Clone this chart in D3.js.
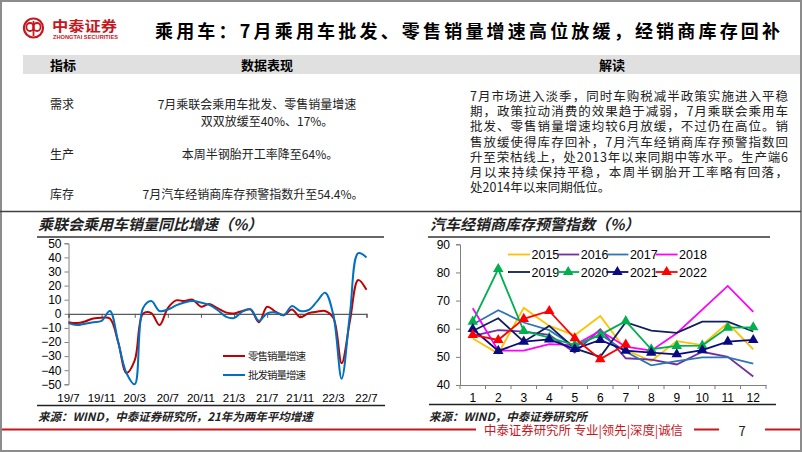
<!DOCTYPE html>
<html>
<head>
<meta charset="utf-8">
<script src="https://cdn.jsdelivr.net/npm/d3@7"></script>
<style>
  html, body { margin: 0; padding: 0; background: #fff; }
  svg text { font-family: "Noto Sans CJK SC", "Liberation Sans", sans-serif; }
  .num { font-family: "Liberation Sans", Arial, sans-serif; }
</style>
</head>
<body>
<svg id="slide" width="802" height="452"></svg>
<script>
// ---- data: left chart (乘联会乘用车销量同比增速, %) ----
const months = ['19/7','19/8','19/9','19/10','19/11','19/12','20/1','20/2','20/3','20/4','20/5','20/6',
  '20/7','20/8','20/9','20/10','20/11','20/12','21/1','21/2','21/3','21/4','21/5','21/6',
  '21/7','21/8','21/9','21/10','21/11','21/12','22/1','22/2','22/3','22/4','22/5','22/6','22/7']
const retail = [-6, -6.6, -5.4, -3.3, -2.8, -3.3, -20, -42, -33, 0, 0.5, -8,
  4, 9.5, 9, 10, 5, 7, 4, 1, 0.3, 2, 3, -6,
  5, 1.5, -1, 3, -2.5, 0.5, 1.5, 2, -3, -35, -5, 24, 17]
const wholesale = [-6.6, -8, -7, -6, -5, 2, -20, -42, -50, 4, 9, 2,
  3, 6, 8, 9, 8, 6.3, 2.7, -2, -3, 1.5, 3.2, -5,
  0.3, 1, -1, 5.5, 2, 2.7, 8.6, 15, -1, -46, 0, 43, 40]
const leftTickLabels = ['19/7','19/11','20/3','20/7','20/11','21/3','21/7','21/11','22/3','22/7']
const leftYTicks = [50, 40, 30, 20, 10, 0, -10, -20, -30, -40, -50]

// ---- data: right chart (汽车经销商库存预警指数, %) ----
const monthNums = [1, 2, 3, 4, 5, 6, 7, 8, 9, 10, 11, 12]
const years = ['2015','2016','2017','2018','2019','2020','2021','2022']
const v2015 = [56.5, 51.2, 67.4, 61, 57.7, 64.5, 52.4, 48.5, 55.6, 54.2, 62, 52.7]
const v2016 = [57.5, 59.5, 59, 57.8, 51.5, 59.8, 49.5, 49, 47.3, 51.8, 50, 43]
const v2017 = [61.5, 66.6, 62.2, 59.5, 53.6, 58, 51.8, 47, 48.5, 49.8, 49.8, 47.6]
const v2018 = [67.3, 52.2, 52.2, 54.5, 54.2, 59.3, 53.6, 52.2, 58.4, 66.8, 75.2, 66]
const v2019 = [59.2, 63.7, 55.4, 61, 53, 50, 62.3, 59.3, 58.5, 62.5, 62.5, 59]
const v2020 = [62.5, 81.2, 59.2, 56.8, 54.2, 57.8, 62.7, 52.7, 53.9, 54, 60.4, 60.5]
const v2021 = [59.9, 52.1, 55.4, 56.2, 52.8, 56, 52.2, 51.5, 50.9, 52.4, 55.4, 56]
const v2022 = [57.8, 56, 63.5, 66.3, 56.6, 49.2, 54.4]
const rightYTicks = [90, 80, 70, 60, 50, 40]

// ---- text ----
const titleText = '乘用车：7月乘用车批发、零售销量增速高位放缓，经销商库存回补'
const readingLines = [
  '7月市场进入淡季，同时车购税减半政策实施进入平稳',
  '期，政策拉动消费的效果趋于减弱，7月乘联会乘用车',
  '批发、零售销量增速均较6月放缓，不过仍在高位。销',
  '售放缓使得库存回补，7月汽车经销商库存预警指数回',
  '升至荣枯线上，处2013年以来同期中等水平。生产端6',
  '月以来持续保持平稳，本周半钢胎开工率略有回落，',
  '处2014年以来同期低位。'
]

const RED = '#c00000'
const svg = d3.select('#slide')

// frame
svg.append('rect').attr('x', 1).attr('y', 1).attr('width', 800).attr('height', 450)
  .attr('fill', '#fff').attr('stroke', '#8c8c8c').attr('stroke-width', 2)

// logo
const logo = svg.append('g')
logo.append('circle').attr('cx', 33.5).attr('cy', 28).attr('r', 9.5)
  .attr('fill', 'none').attr('stroke', '#c8161d').attr('stroke-width', 2.2)
logo.append('ellipse').attr('cx', 30).attr('cy', 27).attr('rx', 3.6).attr('ry', 4)
  .attr('fill', 'none').attr('stroke', '#c8161d').attr('stroke-width', 1.8)
logo.append('ellipse').attr('cx', 37).attr('cy', 27).attr('rx', 3.6).attr('ry', 4)
  .attr('fill', 'none').attr('stroke', '#c8161d').attr('stroke-width', 1.8)
logo.append('line').attr('x1', 33.5).attr('x2', 33.5).attr('y1', 21).attr('y2', 36)
  .attr('stroke', '#c8161d').attr('stroke-width', 1.8)
logo.append('text').attr('x', 52).attr('y', 31).attr('font-size', 14).attr('font-weight', 700)
  .attr('fill', '#c8161d').attr('textLength', 65).attr('lengthAdjust', 'spacingAndGlyphs').text('中泰证券')
logo.append('text').attr('class', 'num').attr('x', 53).attr('y', 38.5).attr('font-size', 4.8).attr('font-weight', 700)
  .attr('fill', '#c8161d').attr('textLength', 65).attr('lengthAdjust', 'spacingAndGlyphs').text('ZHONGTAI SECURITIES')

// title
svg.append('text').attr('x', 155).attr('y', 38).attr('font-size', 18).attr('font-weight', 700)
  .attr('fill', '#000').attr('textLength', 625).attr('lengthAdjust', 'spacing').text(titleText)

// table header bar
svg.append('rect').attr('x', 23).attr('y', 55).attr('width', 777).attr('height', 19).attr('fill', '#e0e0e0')
svg.append('text').attr('x', 50).attr('y', 70).attr('font-size', 13).attr('font-weight', 700).text('指标')
svg.append('text').attr('x', 267).attr('y', 70).attr('font-size', 13).attr('font-weight', 700)
  .attr('text-anchor', 'middle').text('数据表现')
svg.append('text').attr('x', 612).attr('y', 70).attr('font-size', 13).attr('font-weight', 700)
  .attr('text-anchor', 'middle').text('解读')

const rows = [
  { k: '需求', y: 109, lines: [['7月乘联会乘用车批发、零售销量增速', 257], ['双双放缓至40%、17%。', 267]] },
  { k: '生产', y: 159, lines: [['本周半钢胎开工率降至64%。', 260]] },
  { k: '库存', y: 199, lines: [['7月汽车经销商库存预警指数升至54.4%。', 253]] }
]
rows.forEach(function (r) {
  svg.append('text').attr('x', 50).attr('y', r.y).attr('font-size', 12).attr('fill', '#222').text(r.k)
  r.lines.forEach(function (l, i) {
    svg.append('text').attr('x', l[1]).attr('y', r.y + i * 16.5)
      .attr('font-size', 12).attr('fill', '#222').attr('text-anchor', 'middle').text(l[0])
  })
})

readingLines.forEach(function (l, i) {
  const t = svg.append('text').attr('x', 470).attr('y', 101 + i * 15.2).attr('font-size', 12.5).attr('fill', '#222').text(l)
  if (i < readingLines.length - 1) t.attr('textLength', 318).attr('lengthAdjust', 'spacing')
})

// separator
svg.append('line').attr('x1', 0).attr('x2', 801).attr('y1', 211.5).attr('y2', 211.5)
  .attr('stroke', '#404040').attr('stroke-width', 1.5)

// ---------------- left chart ----------------
svg.append('text').attr('x', 38).attr('y', 230).attr('font-size', 15).attr('font-weight', 700)
  .attr('font-style', 'italic').attr('fill', '#222').text('乘联会乘用车销量同比增速（%）')
svg.append('line').attr('x1', 37).attr('x2', 384).attr('y1', 237).attr('y2', 237).attr('stroke', '#333').attr('stroke-width', 1.3)

const xL = d3.scaleLinear().domain([0, months.length - 1]).range([68.5, 366.5])
const yL = d3.scaleLinear().domain([-50, 50]).range([384.3, 243.3])

const gL = svg.append('g')
const yAxisL = d3.axisLeft(yL).tickValues(leftYTicks).tickSize(4).tickPadding(3)
gL.append('g').attr('transform', 'translate(68.5,0)').call(yAxisL)
  .call(function (g) {
    g.select('.domain').attr('stroke', '#7f7f7f')
    g.selectAll('.tick line').attr('stroke', '#7f7f7f')
    g.selectAll('text').attr('class', 'num').attr('font-size', 12).attr('fill', '#000')
  })
const xAxisL = d3.axisBottom(xL).tickValues(d3.range(0, months.length, 4)).tickSize(4)
  .tickFormat(function (d) { return '' })
gL.append('g').attr('transform', 'translate(0,' + yL(0) + ')').call(xAxisL)
  .call(function (g) {
    g.select('.domain').attr('stroke', '#595959').attr('stroke-width', 1.2)
    g.selectAll('.tick line').attr('stroke', '#595959')
  })
gL.selectAll('.xlab').data(leftTickLabels).enter().append('text')
  .attr('class', 'num').attr('x', function (d) { return xL(months.indexOf(d)) }).attr('y', 402)
  .attr('text-anchor', 'middle').attr('font-size', 11.5).text(function (d) { return d })

const lineL = d3.line().x(function (d, i) { return xL(i) }).y(function (d) { return yL(d) })
  .curve(d3.curveCatmullRom.alpha(0.5))
gL.append('path').datum(retail).attr('d', lineL).attr('fill', 'none').attr('stroke', RED).attr('stroke-width', 2)
gL.append('path').datum(wholesale).attr('d', lineL).attr('fill', 'none').attr('stroke', '#0070c0').attr('stroke-width', 2)

const legL = [['零售销量增速', RED, 356], ['批发销量增速', '#0070c0', 375]]
legL.forEach(function (l) {
  gL.append('line').attr('x1', 223).attr('x2', 245).attr('y1', l[2]).attr('y2', l[2]).attr('stroke', l[1]).attr('stroke-width', 2)
  gL.append('text').attr('x', 248).attr('y', l[2] + 4).attr('font-size', 10.5).attr('fill', '#222')
    .attr('textLength', 58).attr('lengthAdjust', 'spacing').text(l[0])
})

svg.append('line').attr('x1', 37).attr('x2', 385).attr('y1', 405.5).attr('y2', 405.5).attr('stroke', '#222').attr('stroke-width', 1.5)
svg.append('text').attr('x', 38).attr('y', 421).attr('font-size', 11.5).attr('font-weight', 700)
  .attr('font-style', 'italic').attr('fill', '#222').text('来源：WIND，中泰证券研究所，21年为两年平均增速')

// ---------------- right chart ----------------
svg.append('text').attr('x', 430).attr('y', 230).attr('font-size', 15).attr('font-weight', 700)
  .attr('font-style', 'italic').attr('fill', '#222').text('汽车经销商库存预警指数（%）')
svg.append('line').attr('x1', 428).attr('x2', 770).attr('y1', 237).attr('y2', 237).attr('stroke', '#333').attr('stroke-width', 1.3)

const xR = d3.scaleBand().domain(monthNums).range([460, 766])
const yR = d3.scaleLinear().domain([40, 90]).range([385, 244.3])
const gR = svg.append('g')
gR.append('g').attr('transform', 'translate(460,0)')
  .call(d3.axisLeft(yR).tickValues(rightYTicks).tickSize(4).tickPadding(6))
  .call(function (g) {
    g.select('.domain').attr('stroke', '#7f7f7f')
    g.selectAll('.tick line').attr('stroke', '#7f7f7f')
    g.selectAll('text').attr('class', 'num').attr('font-size', 12).attr('fill', '#000')
  })
gR.append('g').attr('transform', 'translate(0,385)')
  .call(d3.axisBottom(xR).tickSize(0).tickPadding(8))
  .call(function (g) {
    g.select('.domain').attr('stroke', '#7f7f7f')
    g.selectAll('text').attr('class', 'num').attr('font-size', 12).attr('fill', '#000')
  })
// category separator ticks
gR.selectAll('.sep').data(d3.range(0, 13)).enter().append('line')
  .attr('x1', function (d) { return 460 + d * xR.step() }).attr('x2', function (d) { return 460 + d * xR.step() })
  .attr('y1', 385).attr('y2', 389).attr('stroke', '#7f7f7f')

const series = [
  { name: '2015', values: v2015, color: '#ffc000', marker: false },
  { name: '2016', values: v2016, color: '#7030a0', marker: false },
  { name: '2017', values: v2017, color: '#2e75b6', marker: false },
  { name: '2018', values: v2018, color: '#ff00ff', marker: false },
  { name: '2019', values: v2019, color: '#0d1f5c', marker: false },
  { name: '2020', values: v2020, color: '#00b050', marker: true },
  { name: '2021', values: v2021, color: '#0a0a80', marker: true },
  { name: '2022', values: v2022, color: '#ff0000', marker: true }
]
const lineR = d3.line().x(function (d, i) { return xR(monthNums[i]) + xR.bandwidth() / 2 }).y(function (d) { return yR(d) })
const tri = d3.symbol().type(d3.symbolTriangle).size(48)

series.forEach(function (s) {
  gR.append('path').datum(s.values).attr('d', lineR).attr('fill', 'none').attr('stroke', s.color).attr('stroke-width', 1.8)
  if (s.marker) {
    gR.selectAll(null).data(s.values).enter().append('path').attr('d', tri)
      .attr('transform', function (d, i) { return 'translate(' + (xR(monthNums[i]) + xR.bandwidth() / 2) + ',' + yR(d) + ')' })
      .attr('fill', s.color)
  }
})

// legend
series.forEach(function (s, i) {
  const lx = 508 + (i % 4) * 49.2
  const ly = i < 4 ? 254.5 : 272
  gR.append('line').attr('x1', lx).attr('x2', lx + 22).attr('y1', ly).attr('y2', ly).attr('stroke', s.color).attr('stroke-width', 1.8)
  if (s.marker) gR.append('path').attr('d', tri).attr('transform', 'translate(' + (lx + 11) + ',' + ly + ')').attr('fill', s.color)
  gR.append('text').attr('class', 'num').attr('x', lx + 23.5).attr('y', ly + 4.5).attr('font-size', 12.5).text(s.name)
})

svg.append('line').attr('x1', 429).attr('x2', 776).attr('y1', 404.5).attr('y2', 404.5).attr('stroke', '#222').attr('stroke-width', 1.5)
svg.append('text').attr('x', 429).attr('y', 421).attr('font-size', 11.5).attr('font-weight', 700)
  .attr('font-style', 'italic').attr('fill', '#222').text('来源：WIND，中泰证券研究所')

// footer
const FRED = '#c8161d'
svg.append('line').attr('x1', 2).attr('x2', 476).attr('y1', 429.5).attr('y2', 429.5).attr('stroke', FRED).attr('stroke-width', 2)
svg.append('text').attr('x', 484).attr('y', 435).attr('font-size', 12.5).attr('fill', FRED)
  .attr('textLength', 199).attr('lengthAdjust', 'spacingAndGlyphs').text('中泰证券研究所 专业|领先|深度|诚信')
svg.append('line').attr('x1', 694).attr('x2', 719).attr('y1', 429.5).attr('y2', 429.5).attr('stroke', FRED).attr('stroke-width', 2)
svg.append('text').attr('x', 742).attr('y', 436).attr('font-size', 13).attr('font-family', 'Liberation Serif, serif')
  .attr('fill', '#222').attr('text-anchor', 'middle').text('7')
svg.append('line').attr('x1', 765).attr('x2', 800).attr('y1', 429.5).attr('y2', 429.5).attr('stroke', FRED).attr('stroke-width', 2)
</script>
</body>
</html>
